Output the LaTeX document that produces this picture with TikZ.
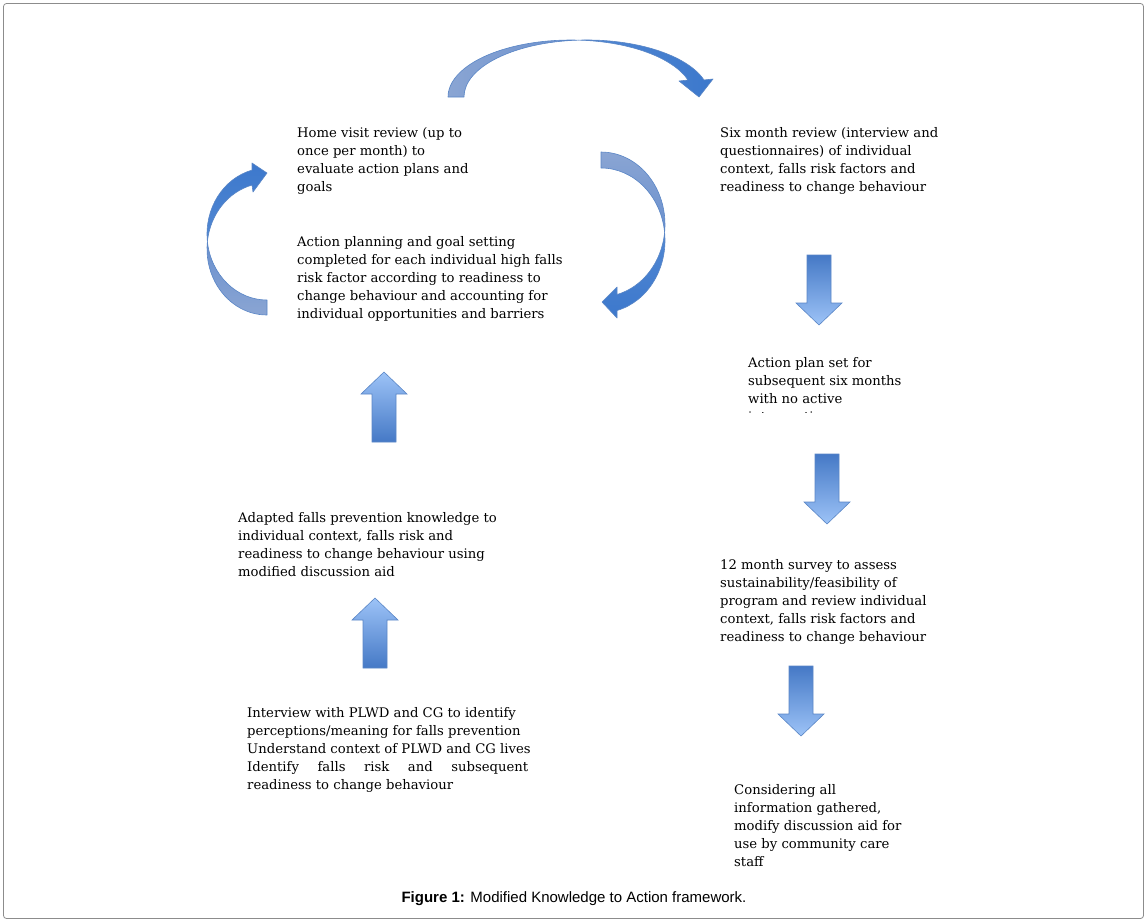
\documentclass[tikz,border=0pt]{standalone}
\usepackage{fontspec}
\setmainfont{DejaVu Serif}
\newfontfamily\capfont{Liberation Sans}
\definecolor{upL}{HTML}{9DC3F7}
\definecolor{upD}{HTML}{4579C6}
\definecolor{arrEdge}{HTML}{5A86C6}
\definecolor{backA}{HTML}{8AA5D3}
\definecolor{backB}{HTML}{6A90CE}
\definecolor{frontA}{HTML}{5288D3}
\definecolor{frontB}{HTML}{3C78CC}
\definecolor{frameC}{HTML}{8C8C8C}
\newcommand{\blkup}[2]{%
  \draw[blockarrow, top color=upL, bottom color=upD]
    (#1-23,#2+22) -- (#1,#2) -- (#1+23,#2+22) -- (#1+12,#2+22) --
    (#1+12,#2+70) -- (#1-12,#2+70) -- (#1-12,#2+22) -- cycle;}
\newcommand{\blkdown}[2]{%
  \draw[blockarrow, top color=upD, bottom color=upL]
    (#1-12,#2) -- (#1+12,#2) -- (#1+12,#2+48) -- (#1+23,#2+48) --
    (#1,#2+70) -- (#1-23,#2+48) -- (#1-12,#2+48) -- cycle;}
\begin{document}
\begin{tikzpicture}[x=1pt,y=-1pt,
  txt/.style={font=\fontsize{13.2}{18}\selectfont, align=left, inner sep=0pt, anchor=north west},
  blockarrow/.style={draw=arrEdge, line width=0.6pt},
  curvedge/.style={draw=arrEdge, line width=0.6pt, line join=round}]
\useasboundingbox (0,0) rectangle (1147,922);
\draw[frameC, line width=0.8pt, rounded corners=3pt] (3.5,3.5) rectangle (1143.5,918.5);

% ---- top curved arrow (curved down arrow) ----
\draw[curvedge, left color=backA, right color=backB]
  (448,97) arc[start angle=180, end angle=273.73, x radius=122.8, y radius=57]
  arc[start angle=266.27, end angle=180, x radius=122.8, y radius=57] -- cycle;
\draw[curvedge, left color=frontA, right color=frontB]
  (578.8,40.1) arc[start angle=266.27, end angle=342.65, x radius=122.8, y radius=57]
  -- (713,79) -- (699,97) -- (679,81) -- (688,80)
  arc[start angle=342.65, end angle=273.73, x radius=122.8, y radius=57] -- cycle;

% ---- left curved arrow (curved right arrow) ----
\draw[curvedge, bottom color=backA, top color=backB]
  (267,315) arc[start angle=90, end angle=186.52, x radius=60, y radius=66]
  arc[start angle=173.48, end angle=90, x radius=60, y radius=66] -- cycle;
\draw[curvedge, bottom color=frontA, top color=frontB]
  (207.4,241.5) arc[start angle=173.48, end angle=255.52, x radius=60, y radius=66]
  -- (252,163) -- (267,173) -- (253,192) -- (252,185.1)
  arc[start angle=255.52, end angle=186.52, x radius=60, y radius=66] -- cycle;

% ---- right curved arrow (curved left arrow) ----
\draw[curvedge, top color=backA, bottom color=backB]
  (601,152) arc[start angle=-90, end angle=6.34, x radius=64, y radius=72.4]
  arc[start angle=-6.34, end angle=-90, x radius=64, y radius=72.4] -- cycle;
\draw[curvedge, top color=frontA, bottom color=frontB]
  (664.6,232.4) arc[start angle=-6.34, end angle=75.52, x radius=64, y radius=72.4]
  -- (617,318) -- (602,302) -- (617,287) -- (617,294.5)
  arc[start angle=75.52, end angle=6.34, x radius=64, y radius=72.4] -- cycle;

% ---- block arrows ----
\blkup{384}{372}
\blkup{375}{598}
\blkdown{819}{255}
\blkdown{827}{454}
\blkdown{801}{666}

% ---- texts ----
\node[txt] (home) at (297,125) {\strut Home visit review (up to\\once per month) to\\evaluate action plans and\\goals};
\node[txt] (plan) at (297,234) {\strut Action planning and goal setting\\completed for each individual high falls\\risk factor according to readiness to\\change behaviour and accounting for\\individual opportunities and barriers};
\node[txt] (six) at (720,125) {\strut Six month review (interview and\\questionnaires) of individual\\context, falls risk factors and\\readiness to change behaviour};
\node[txt] (aps) at (748,355) {\strut Action plan set for\\subsequent six months\\with no active};
\begin{scope}
  \clip (740,400) rectangle (900,412.8);
  \node[txt] (apsclip) at (748,409) {\strut intervention};
\end{scope}
\node[txt] (adapted) at (238,510) {\strut Adapted falls prevention knowledge to\\individual context, falls risk and\\readiness to change behaviour using\\modified discussion aid};
\node[txt] (survey) at (720,557) {\strut 12 month survey to assess\\sustainability/feasibility of\\program and review individual\\context, falls risk factors and\\readiness to change behaviour};
\node[txt] (interview) at (247,705) {\strut Interview with PLWD and CG to identify\\perceptions/meaning for falls prevention\\Understand context of PLWD and CG lives\\\hbox to 281pt{Identify\hfill falls\hfill risk\hfill and\hfill subsequent}\\readiness to change behaviour};
\node[txt] (consider) at (734,782) {\strut Considering all\\information gathered,\\modify discussion aid for\\use by community care\\staff};
\node[font=\capfont\fontsize{15}{17}\selectfont, inner sep=0pt] (cap) at (574,898.5) {\textbf{Figure 1:} Modified Knowledge to Action framework.};
\end{tikzpicture}
\end{document}
